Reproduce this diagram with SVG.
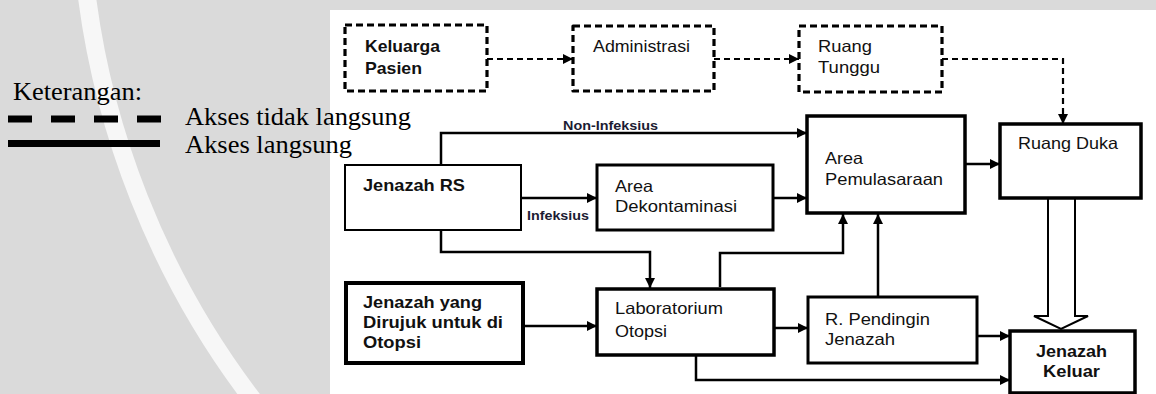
<svg xmlns="http://www.w3.org/2000/svg" width="1156" height="394" viewBox="0 0 1156 394">
  <style>
    .lbl { font-family: "Liberation Sans", Arial, sans-serif; font-size: 16.5px; fill: #111; }
    .b { font-weight: bold; }
    .tag { font-family: "Liberation Sans", Arial, sans-serif; font-size: 12px; font-weight: bold; fill: #1c1c33; }
    .leg { font-family: "Liberation Serif", "Times New Roman", serif; font-size: 25.5px; fill: #000; }
    .box { fill: #fff; stroke: #000; }
    .dbox { fill: #fff; stroke: #000; stroke-width: 3.2; stroke-dasharray: 7 4; stroke-linejoin: round; }
    .ln { fill: none; stroke: #000; stroke-width: 2.5; }
    .dln { fill: none; stroke: #000; stroke-width: 2.2; stroke-dasharray: 6 4; }
  </style>
  <defs>
    <marker id="ah" markerUnits="userSpaceOnUse" markerWidth="10" markerHeight="10" refX="10" refY="5" orient="auto">
      <path d="M0,0 L10,5 L0,10 Z" fill="#000"/>
    </marker>
  </defs>

  <!-- page background -->
  <rect x="0" y="0" width="1156" height="394" fill="#dadada"/>
  <circle cx="923" cy="-112" r="843" fill="none" stroke="#f7f7f7" stroke-width="18"/>

  <!-- diagram sheet -->
  <rect x="330" y="10" width="826" height="384" fill="#fff"/>

  <!-- legend -->
  <g id="legend">
    <text class="leg" x="13" y="100" textLength="129" lengthAdjust="spacingAndGlyphs">Keterangan:</text>
    <line x1="8" y1="119" x2="161" y2="119" stroke="#000" stroke-width="7" stroke-dasharray="24 19"/>
    <line x1="8" y1="143.5" x2="160" y2="143.5" stroke="#000" stroke-width="7"/>
    <text class="leg" x="185" y="125" textLength="226" lengthAdjust="spacingAndGlyphs">Akses tidak langsung</text>
    <text class="leg" x="185" y="153" textLength="167" lengthAdjust="spacingAndGlyphs">Akses langsung</text>
  </g>

  <!-- connectors -->
  <g id="connectors">
    <path class="dln" d="M487,59 H573" marker-end="url(#ah)"/>
    <path class="dln" d="M714,59 H799" marker-end="url(#ah)"/>
    <path class="dln" d="M942,59 H1063 V124" marker-end="url(#ah)"/>

    <path class="ln" d="M441,165 V133 H807" marker-end="url(#ah)"/>
    <path class="ln" d="M521,198 H597" marker-end="url(#ah)"/>
    <path class="ln" d="M773,198 H807" marker-end="url(#ah)"/>
    <path class="ln" d="M441,230 V252 H650 V288" marker-end="url(#ah)"/>
    <path class="ln" d="M523,326 H597" marker-end="url(#ah)"/>
    <path class="ln" d="M720,287 V253 H843 V214" marker-end="url(#ah)"/>
    <path class="ln" d="M878,297 V214" marker-end="url(#ah)"/>
    <path class="ln" d="M965,164 H1000" marker-end="url(#ah)"/>
    <path class="ln" d="M774,328 H808" marker-end="url(#ah)"/>
    <path class="ln" d="M977,336 H1010" stroke-width="3" marker-end="url(#ah)"/>
    <path class="ln" d="M696,355 V380 H1010" marker-end="url(#ah)"/>
    <path d="M1048,198 V316 H1034 L1061,329 L1088,316 H1075 V198" fill="#fff" stroke="#000" stroke-width="2"/>

    <text class="tag" x="563" y="130" textLength="95" lengthAdjust="spacingAndGlyphs">Non-Infeksius</text>
    <text class="tag" x="527" y="220" textLength="62" lengthAdjust="spacingAndGlyphs">Infeksius</text>
  </g>

  <!-- nodes -->
  <g id="keluarga-pasien">
    <rect class="dbox" x="345" y="25" width="142" height="66"/>
    <text class="lbl b" x="365" y="52" textLength="75" lengthAdjust="spacingAndGlyphs">Keluarga</text>
    <text class="lbl b" x="365" y="74" textLength="57" lengthAdjust="spacingAndGlyphs">Pasien</text>
  </g>
  <g id="administrasi">
    <rect class="dbox" x="573" y="26" width="141" height="65"/>
    <text class="lbl" x="593" y="52" textLength="97" lengthAdjust="spacingAndGlyphs">Administrasi</text>
  </g>
  <g id="ruang-tunggu">
    <rect class="dbox" x="799" y="26" width="143" height="66"/>
    <text class="lbl" x="818" y="52" textLength="54" lengthAdjust="spacingAndGlyphs">Ruang</text>
    <text class="lbl" x="818" y="73" textLength="62" lengthAdjust="spacingAndGlyphs">Tunggu</text>
  </g>
  <g id="jenazah-rs">
    <rect class="box" x="345" y="165" width="176" height="65" stroke-width="2"/>
    <text class="lbl b" x="363" y="191" textLength="102" lengthAdjust="spacingAndGlyphs">Jenazah RS</text>
  </g>
  <g id="area-dekontaminasi">
    <rect class="box" x="597" y="165" width="176" height="65" stroke-width="3"/>
    <text class="lbl" x="615" y="192" textLength="38" lengthAdjust="spacingAndGlyphs">Area</text>
    <text class="lbl" x="615" y="212" textLength="122" lengthAdjust="spacingAndGlyphs">Dekontaminasi</text>
  </g>
  <g id="area-pemulasaraan">
    <rect class="box" x="807" y="116" width="158" height="97" stroke-width="3.5"/>
    <text class="lbl" x="825" y="164" textLength="38" lengthAdjust="spacingAndGlyphs">Area</text>
    <text class="lbl" x="825" y="185" textLength="118" lengthAdjust="spacingAndGlyphs">Pemulasaraan</text>
  </g>
  <g id="ruang-duka">
    <rect class="box" x="1000" y="124" width="141" height="74" stroke-width="3.5"/>
    <text class="lbl" x="1018" y="149" textLength="100" lengthAdjust="spacingAndGlyphs">Ruang Duka</text>
  </g>
  <g id="jenazah-dirujuk">
    <rect class="box" x="346" y="283" width="177" height="80" stroke-width="4"/>
    <text class="lbl b" x="363" y="308" textLength="119" lengthAdjust="spacingAndGlyphs">Jenazah yang</text>
    <text class="lbl b" x="363" y="328" textLength="140" lengthAdjust="spacingAndGlyphs">Dirujuk untuk di</text>
    <text class="lbl b" x="363" y="348" textLength="58" lengthAdjust="spacingAndGlyphs">Otopsi</text>
  </g>
  <g id="laboratorium-otopsi">
    <rect class="box" x="597" y="289" width="177" height="66" stroke-width="3.5"/>
    <text class="lbl" x="615" y="314" textLength="108" lengthAdjust="spacingAndGlyphs">Laboratorium</text>
    <text class="lbl" x="615" y="337" textLength="52" lengthAdjust="spacingAndGlyphs">Otopsi</text>
  </g>
  <g id="r-pendingin">
    <rect class="box" x="808" y="297" width="169" height="66" stroke-width="3"/>
    <text class="lbl" x="825" y="325" textLength="105" lengthAdjust="spacingAndGlyphs">R. Pendingin</text>
    <text class="lbl" x="825" y="345" textLength="70" lengthAdjust="spacingAndGlyphs">Jenazah</text>
  </g>
  <g id="jenazah-keluar">
    <rect class="box" x="1010" y="331" width="125" height="62" stroke-width="3.5"/>
    <text class="lbl b" x="1036" y="357" textLength="71" lengthAdjust="spacingAndGlyphs">Jenazah</text>
    <text class="lbl b" x="1043" y="377" textLength="57" lengthAdjust="spacingAndGlyphs">Keluar</text>
  </g>
</svg>
